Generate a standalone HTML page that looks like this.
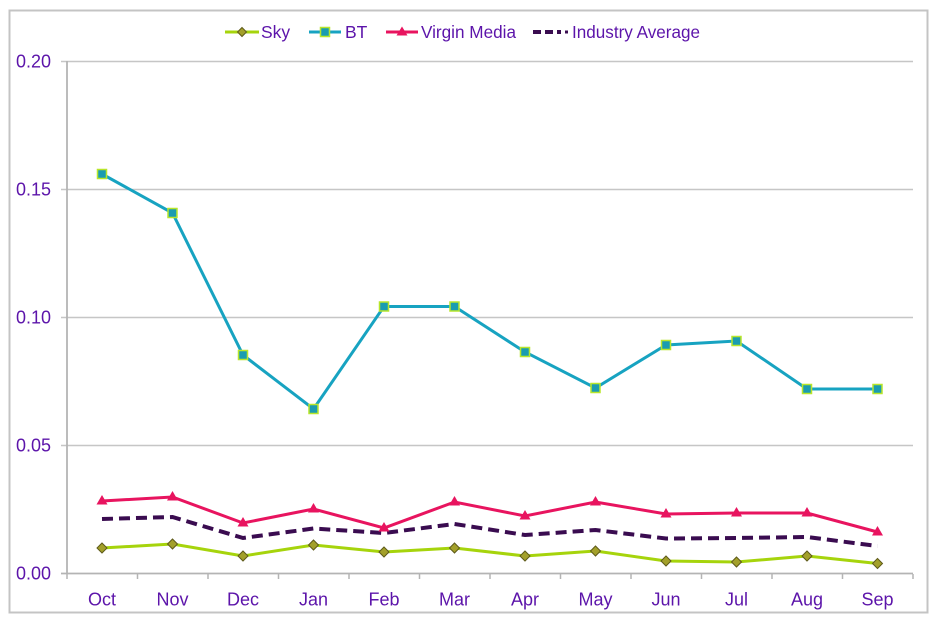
<!DOCTYPE html>
<html>
<head>
<meta charset="utf-8">
<style>
  html,body{margin:0;padding:0;background:#fff;}
  svg{display:block;}
  text{font-family:"Liberation Sans", Arial, sans-serif;fill:#5c14aa;}
</style>
</head>
<body>
<svg width="940" height="626" viewBox="0 0 940 626" xmlns="http://www.w3.org/2000/svg">
  <rect x="0" y="0" width="940" height="626" fill="#fff"/>
  <!-- outer frame -->
  <rect x="9.5" y="10.5" width="918" height="602" fill="none" stroke="#c4c4c4" stroke-width="2"/>

  <!-- gridlines -->
  <g stroke="#c6c6c6" stroke-width="1.6">
    <line x1="61" y1="61.5" x2="913" y2="61.5"/>
    <line x1="61" y1="189.5" x2="913" y2="189.5"/>
    <line x1="61" y1="317.5" x2="913" y2="317.5"/>
    <line x1="61" y1="445.5" x2="913" y2="445.5"/>
  </g>
  <!-- axes -->
  <g stroke="#b4b4b4" stroke-width="1.8">
    <line x1="67" y1="61" x2="67" y2="574"/>
    <line x1="61" y1="573.5" x2="913" y2="573.5"/>
  </g>
  <!-- x ticks -->
  <g stroke="#b4b4b4" stroke-width="1.5">
    <line x1="67" y1="574" x2="67" y2="579"/>
    <line x1="137.5" y1="574" x2="137.5" y2="579"/>
    <line x1="208" y1="574" x2="208" y2="579"/>
    <line x1="278.5" y1="574" x2="278.5" y2="579"/>
    <line x1="349" y1="574" x2="349" y2="579"/>
    <line x1="419.5" y1="574" x2="419.5" y2="579"/>
    <line x1="490" y1="574" x2="490" y2="579"/>
    <line x1="560.5" y1="574" x2="560.5" y2="579"/>
    <line x1="631" y1="574" x2="631" y2="579"/>
    <line x1="701.5" y1="574" x2="701.5" y2="579"/>
    <line x1="772" y1="574" x2="772" y2="579"/>
    <line x1="842.5" y1="574" x2="842.5" y2="579"/>
    <line x1="913" y1="574" x2="913" y2="579"/>
  </g>

  <!-- y labels -->
  <g font-size="18" text-anchor="end">
    <text x="51" y="67.5">0.20</text>
    <text x="51" y="195.5">0.15</text>
    <text x="51" y="323.5">0.10</text>
    <text x="51" y="451.5">0.05</text>
    <text x="51" y="579.5">0.00</text>
  </g>
  <!-- x labels -->
  <g font-size="18" text-anchor="middle">
    <text x="102" y="605.5">Oct</text>
    <text x="172.5" y="605.5">Nov</text>
    <text x="243" y="605.5">Dec</text>
    <text x="313.5" y="605.5">Jan</text>
    <text x="384" y="605.5">Feb</text>
    <text x="454.5" y="605.5">Mar</text>
    <text x="525" y="605.5">Apr</text>
    <text x="595.5" y="605.5">May</text>
    <text x="666" y="605.5">Jun</text>
    <text x="736.5" y="605.5">Jul</text>
    <text x="807" y="605.5">Aug</text>
    <text x="877.5" y="605.5">Sep</text>
  </g>

  <!-- Industry Average -->
  <polyline fill="none" stroke="#3a0c50" stroke-width="4" stroke-dasharray="11,6"
    points="102,519 172.5,517 243,538 313.5,528.5 384,533 454.5,524 525,535 595.5,530 666,538.5 736.5,538 807,537 877.5,546"/>

  <!-- Sky -->
  <polyline fill="none" stroke="#a6d40c" stroke-width="3"
    points="102,548 172.5,544 243,556 313.5,545 384,552 454.5,548 525,556 595.5,551 666,561 736.5,562 807,556 877.5,563.5"/>
  <g fill="#a3a02a" stroke="#5e5a1a" stroke-width="1">
    <polygon points="102,543 107,548 102,553 97,548"/>
    <polygon points="172.5,539 177.5,544 172.5,549 167.5,544"/>
    <polygon points="243,551 248,556 243,561 238,556"/>
    <polygon points="313.5,540 318.5,545 313.5,550 308.5,545"/>
    <polygon points="384,547 389,552 384,557 379,552"/>
    <polygon points="454.5,543 459.5,548 454.5,553 449.5,548"/>
    <polygon points="525,551 530,556 525,561 520,556"/>
    <polygon points="595.5,546 600.5,551 595.5,556 590.5,551"/>
    <polygon points="666,556 671,561 666,566 661,561"/>
    <polygon points="736.5,557 741.5,562 736.5,567 731.5,562"/>
    <polygon points="807,551 812,556 807,561 802,556"/>
    <polygon points="877.5,558.5 882.5,563.5 877.5,568.5 872.5,563.5"/>
  </g>

  <!-- Virgin Media -->
  <polyline fill="none" stroke="#e8145f" stroke-width="3"
    points="102,501 172.5,497 243,523 313.5,509 384,528 454.5,502 525,516 595.5,502 666,514 736.5,513 807,513 877.5,532"/>
  <g fill="#e8145f">
    <polygon points="102,495 107.5,504.5 96.5,504.5"/>
    <polygon points="172.5,491 178,500.5 167,500.5"/>
    <polygon points="243,517 248.5,526.5 237.5,526.5"/>
    <polygon points="313.5,503 319,512.5 308,512.5"/>
    <polygon points="384,522 389.5,531.5 378.5,531.5"/>
    <polygon points="454.5,496 460,505.5 449,505.5"/>
    <polygon points="525,510 530.5,519.5 519.5,519.5"/>
    <polygon points="595.5,496 601,505.5 590,505.5"/>
    <polygon points="666,508 671.5,517.5 660.5,517.5"/>
    <polygon points="736.5,507 742,516.5 731,516.5"/>
    <polygon points="807,507 812.5,516.5 801.5,516.5"/>
    <polygon points="877.5,526 883,535.5 872,535.5"/>
  </g>

  <!-- BT -->
  <polyline fill="none" stroke="#17a3c1" stroke-width="3"
    points="102,174 172.5,213 243,355 313.5,409 384,306.5 454.5,306.5 525,352 595.5,388 666,345 736.5,341 807,389 877.5,389"/>
  <g fill="#1a9cb0" stroke="#b8e62a" stroke-width="1.5">
    <rect x="97.5" y="169.5" width="9" height="9"/>
    <rect x="168" y="208.5" width="9" height="9"/>
    <rect x="238.5" y="350.5" width="9" height="9"/>
    <rect x="309" y="404.5" width="9" height="9"/>
    <rect x="379.5" y="302" width="9" height="9"/>
    <rect x="450" y="302" width="9" height="9"/>
    <rect x="520.5" y="347.5" width="9" height="9"/>
    <rect x="591" y="383.5" width="9" height="9"/>
    <rect x="661.5" y="340.5" width="9" height="9"/>
    <rect x="732" y="336.5" width="9" height="9"/>
    <rect x="802.5" y="384.5" width="9" height="9"/>
    <rect x="873" y="384.5" width="9" height="9"/>
  </g>

  <!-- Legend -->
  <g>
    <line x1="225" y1="32" x2="259" y2="32" stroke="#a6d40c" stroke-width="3"/>
    <polygon points="242,27.5 246.5,32 242,36.5 237.5,32" fill="#a3a02a" stroke="#5e5a1a" stroke-width="1"/>
    <text x="261" y="38" font-size="17.5">Sky</text>

    <line x1="309" y1="32" x2="341" y2="32" stroke="#17a3c1" stroke-width="3"/>
    <rect x="320.5" y="27.5" width="9" height="9" fill="#1a9cb0" stroke="#b8e62a" stroke-width="1.5"/>
    <text x="345" y="38" font-size="17.5">BT</text>

    <line x1="386" y1="32" x2="418" y2="32" stroke="#e8145f" stroke-width="3"/>
    <polygon points="402,26.5 407.5,35.5 396.5,35.5" fill="#e8145f"/>
    <text x="421" y="38" font-size="17.5" textLength="95" lengthAdjust="spacingAndGlyphs">Virgin Media</text>

    <line x1="533" y1="32" x2="561" y2="32" stroke="#3a0c50" stroke-width="4" stroke-dasharray="8,4"/>
    <rect x="565" y="30.5" width="3" height="3" fill="#3a0c50"/>
    <text x="572" y="38" font-size="17.5" textLength="128" lengthAdjust="spacingAndGlyphs">Industry Average</text>
  </g>
</svg>
</body>
</html>
